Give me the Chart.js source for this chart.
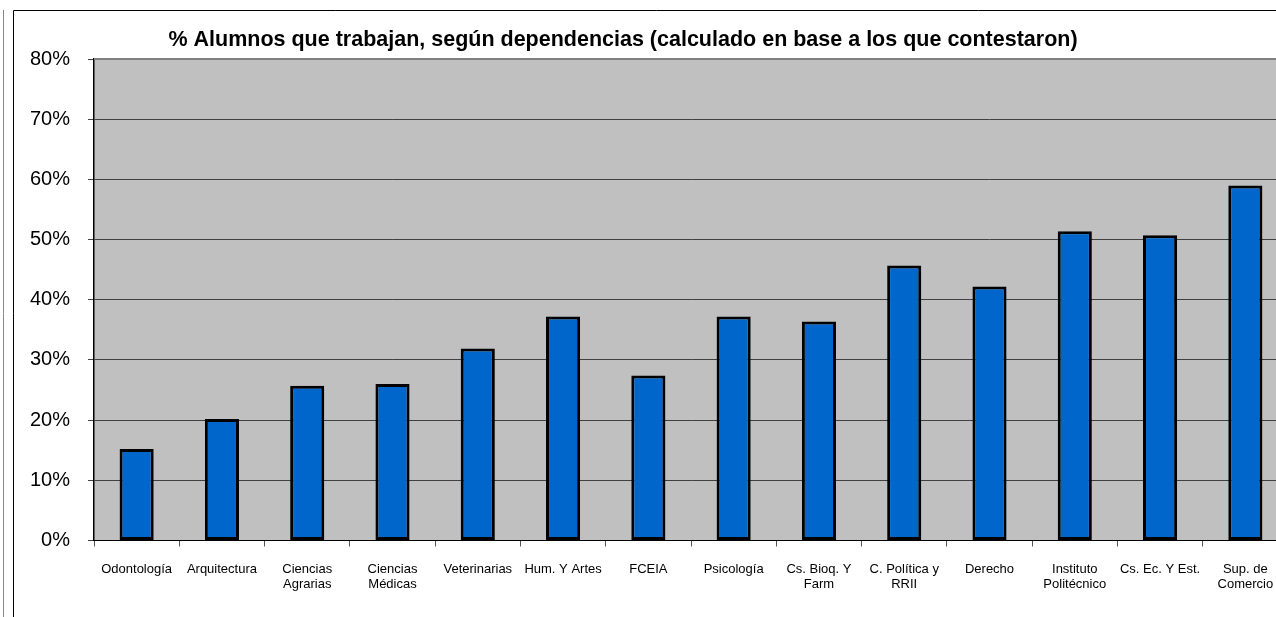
<!DOCTYPE html>
<html>
<head>
<meta charset="utf-8">
<script src="https://cdn.jsdelivr.net/npm/chart.js@4/dist/chart.umd.min.js"></script>
<style>
  html, body { margin: 0; padding: 0; background: #fff; overflow: hidden; }
  #wrap { position: relative; width: 1300px; height: 617px; }
</style>
</head>
<body>
<div id="wrap"><canvas id="chart" width="1300" height="617"></canvas></div>
<script>
const categories = [
    'Odontología', 'Arquitectura', ['Ciencias', 'Agrarias'], ['Ciencias', 'Médicas'],
    'Veterinarias', 'Hum. Y Artes', 'FCEIA', 'Psicología', ['Cs. Bioq. Y', 'Farm'],
    ['C. Política y', 'RRII'], 'Derecho', ['Instituto', 'Politécnico'], 'Cs. Ec. Y Est.',
    ['Sup. de', 'Comercio']
];
const porcentajes = [15.2, 20.2, 25.7, 26.0, 31.9, 37.2, 27.4, 37.2, 36.4, 45.7, 42.2, 51.4, 50.7, 59.0];
const yTicks = [0, 10, 20, 30, 40, 50, 60, 70, 80];
const titulo = '% Alumnos que trabajan, según dependencias (calculado en base a los que contestaron)';

// fondo gris del area de trazado, marco y titulo
const decor = {
    id: 'decor',
    beforeDraw(chart) {
        const ctx = chart.ctx;
        const a = chart.chartArea;
        ctx.save();
        ctx.fillStyle = '#c0c0c0';
        ctx.fillRect(a.left, a.top, a.right - a.left, a.bottom - a.top);
        ctx.restore();
    },
    afterDraw(chart) {
        const ctx = chart.ctx;
        const a = chart.chartArea;
        ctx.save();
        // borde superior gris del area
        ctx.strokeStyle = '#808080';
        ctx.lineWidth = 2;
        ctx.beginPath();
        ctx.moveTo(a.left, a.top);
        ctx.lineTo(a.right, a.top);
        ctx.stroke();
        // marco exterior
        ctx.strokeStyle = '#000';
        ctx.lineWidth = 1;
        ctx.beginPath();
        ctx.moveTo(13.5, 617);
        ctx.lineTo(13.5, 10.5);
        ctx.lineTo(1300, 10.5);
        ctx.stroke();
        ctx.strokeStyle = '#888';
        ctx.beginPath();
        ctx.moveTo(3.5, 10);
        ctx.lineTo(3.5, 617);
        ctx.stroke();
        // titulo
        ctx.fillStyle = '#000';
        ctx.font = 'bold 21.5px "Liberation Sans", Arial, sans-serif';
        ctx.textAlign = 'center';
        ctx.textBaseline = 'alphabetic';
        ctx.fillText(titulo, 623, 46);
        ctx.restore();
    }
};

new Chart(document.getElementById('chart'), {
    type: 'bar',
    data: {
        labels: categories,
        datasets: [{
            label: '% que trabajan',
            data: porcentajes,
            backgroundColor: '#0066cc',
            borderColor: '#000000',
            borderWidth: 3,
            borderSkipped: false,
            barPercentage: 0.4,
            categoryPercentage: 1.0
        }]
    },
    options: {
        responsive: false,
        animation: false,
        layout: { padding: { top: 59, left: 0, right: 12, bottom: 0 } },
        plugins: {
            legend: { display: false },
            title: { display: false },
            tooltip: { enabled: false }
        },
        scales: {
            x: {
                grid: {
                    offset: true,
                    drawOnChartArea: false,
                    drawTicks: true,
                    tickLength: 6,
                    color: '#555'
                },
                border: { color: '#000', width: 1 },
                ticks: {
                    color: '#000',
                    font: { family: '"Liberation Sans", Arial, sans-serif', size: 13 },
                    padding: 15,
                    maxRotation: 0,
                    minRotation: 0,
                    autoSkip: false
                },
                afterFit(scale) { scale.height = 617 - 540.5; }
            },
            y: {
                min: 0,
                max: 80,
                afterBuildTicks(scale) { scale.ticks = yTicks.map(v => ({ value: v })); },
                grid: { color: '#404040', lineWidth: 1, tickLength: 6 },
                border: { color: '#000', width: 1.5 },
                ticks: {
                    color: '#000',
                    font: { family: '"Liberation Sans", Arial, sans-serif', size: 20 },
                    padding: 18,
                    callback: v => v + '%'
                },
                afterFit(scale) { scale.width = 94; }
            }
        }
    },
    plugins: [decor]
});
</script>
</body>
</html>
